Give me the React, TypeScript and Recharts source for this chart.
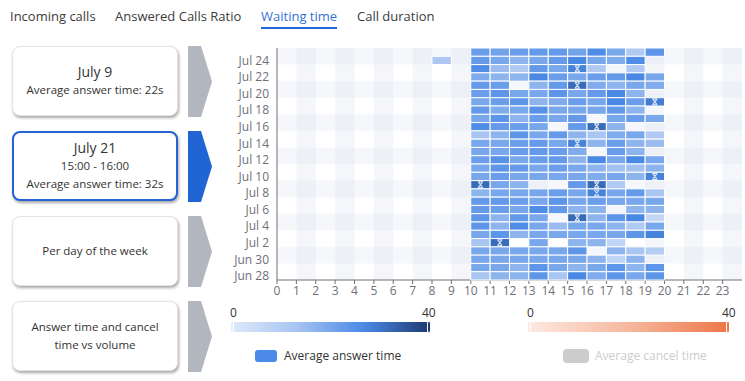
import React from "react";
import { ScatterChart, Scatter, XAxis, YAxis, ReferenceArea } from "recharts";

const TABS = ["Incoming calls", "Answered Calls Ratio", "Waiting time", "Call duration"];
const TAB_LEFT = [10, 115, 261, 357];
const ACTIVE_TAB = 2;

// rows top to bottom
const DAYS = [
  "Jul 25", "Jul 24", "Jul 23", "Jul 22", "Jul 21", "Jul 20", "Jul 19",
  "Jul 18", "Jul 17", "Jul 16", "Jul 15", "Jul 14", "Jul 13", "Jul 12",
  "Jul 11", "Jul 10", "Jul 9", "Jul 8", "Jul 7", "Jul 6", "Jul 5",
  "Jul 4", "Jul 3", "Jul 2", "Jul 1", "Jun 30", "Jun 29", "Jun 28",
];
const HOURS = Array.from({ length: 24 }, (_, i) => i);
const BUSY_HOURS = [10, 11, 12, 13, 14, 15, 16, 17, 18, 19];

// average answer time (s), one row per day, columns = BUSY_HOURS
const WAIT: (number | null)[][] = [
  [22, 21, 22, 23, 23, 21, 26, 20, 11, 24],
  [23, 20, 17, 20, 23, 27, 20, 19, 26, null],
  [26, 15, 11, 23, 20, 28, 11, null, 11, null],
  [19, 17, 17, 27, 22, 20, 22, 23, 27, 20],
  [23, 22, null, 17, 23, 32, 19, 17, 20, 19],
  [22, 24, 20, 20, 24, 20, 23, 27, 17, null],
  [20, 22, 24, 17, 19, 22, 20, 27, 22, 29],
  [23, 19, 20, 25, 20, 20, 20, 23, 17, null],
  [20, 24, 17, 22, 20, 23, null, 20, 22, 20],
  [26, 23, 22, 20, null, 23, 32, 17, null, null],
  [13, 17, 24, 20, 23, 17, 13, 19, 20, 11],
  [20, 20, 22, 23, 20, 28, 17, 22, 17, 15],
  [20, 20, 22, 23, 22, 19, null, 22, 17, null],
  [22, 25, 20, 22, 23, 17, 27, 20, 27, 20],
  [20, 24, 23, 20, 22, 20, 17, 14, 14, 17],
  [20, 22, 20, 20, 20, 20, 19, 20, 17, 28],
  [32, 20, 17, null, null, 23, 32, 11, null, null],
  [17, 20, 20, 20, 22, 20, 28, 20, 23, 13],
  [23, 23, 22, 20, 24, 20, 22, 20, 20, 20],
  [23, 22, 20, 26, 23, 17, 17, null, 17, 17],
  [24, 17, 23, 20, null, 32, 17, 24, 27, 6],
  [24, 17, 26, 20, 15, 20, 20, 17, 11, 20],
  [20, 24, 17, 20, 20, 20, 20, 20, 24, 28],
  [13, 32, null, 20, null, 17, 17, 7, null, null],
  [20, 20, 20, 20, 20, 24, null, 17, 13, 10],
  [20, 20, 20, 20, 20, 20, 17, 7, 17, null],
  [20, 20, 17, 24, 20, 17, 20, 24, 17, 24],
  [13, 17, 17, 24, 13, 27, 19, 24, 20, 24],
];
const EXTRA = [{ day: "Jul 24", hour: 8, value: 12 }];

// cells marked with the small icon
const FLAGGED: [string, number][] = [
  ["Jul 23", 15], ["Jul 21", 15], ["Jul 19", 19], ["Jul 16", 16],
  ["Jul 14", 15], ["Jul 10", 19], ["Jul 9", 10], ["Jul 9", 16],
  ["Jul 8", 16], ["Jul 5", 15], ["Jul 2", 11],
];

const CARDS = [
  { lines: ["July 9", "Average answer time: 22s"], selected: false },
  { lines: ["July 21", "15:00 - 16:00", "Average answer time: 32s"], selected: true },
  { lines: ["Per day of the week"], selected: false },
  { lines: ["Answer time and cancel", "time vs volume"], selected: false },
];

const MAX_VALUE = 40;
const BLUE_STOPS: [number, string][] = [
  [0, "#dce9fb"], [0.33, "#a8c4f1"], [0.67, "#4a8ae6"], [1, "#1f3d72"],
];

const hex = (c: string) => [1, 3, 5].map((i) => parseInt(c.slice(i, i + 2), 16));
const colorFor = (v: number) => {
  const t = Math.max(0, Math.min(1, v / MAX_VALUE));
  for (let i = 1; i < BLUE_STOPS.length; i++) {
    const [p1, c1] = BLUE_STOPS[i];
    const [p0, c0] = BLUE_STOPS[i - 1];
    if (t <= p1) {
      const k = (t - p0) / (p1 - p0);
      const a = hex(c0), b = hex(c1);
      return `rgb(${a.map((x, j) => Math.round(x + (b[j] - x) * k)).join(",")})`;
    }
  }
  return BLUE_STOPS[BLUE_STOPS.length - 1][1];
};

const CHART_W = 525;
const CHART_H = 262;
const MARGIN = { top: 8, right: 3, bottom: 0, left: 0 };
const Y_W = 57;
const X_H = 22;
const CELL_W = (CHART_W - MARGIN.left - MARGIN.right - Y_W) / HOURS.length;
const CELL_H = (CHART_H - MARGIN.top - MARGIN.bottom - X_H) / DAYS.length;

const cells: { x: number; y: number; v: number; flag: boolean }[] = [];
DAYS.forEach((day, d) => {
  WAIT[d].forEach((v, j) => {
    if (v == null) return;
    const h = BUSY_HOURS[j];
    cells.push({ x: h + 0.5, y: d + 0.5, v, flag: FLAGGED.some(([fd, fh]) => fd === day && fh === h) });
  });
});
EXTRA.forEach((e) => cells.push({ x: e.hour + 0.5, y: DAYS.indexOf(e.day) + 0.5, v: e.value, flag: false }));

const CellShape = (props: any) => {
  const { cx, cy, payload } = props;
  if (cx == null || cy == null) return null;
  return (
    <g>
      <rect x={cx - CELL_W / 2} y={cy - CELL_H / 2} width={CELL_W} height={CELL_H} fill={colorFor(payload.v)} stroke="#ffffff" strokeWidth={1} />
      {payload.flag && (
        <path
          d={`M${cx - 2.5},${cy - 3}h5M${cx - 2.5},${cy + 3}h5M${cx - 2},${cy - 2.5}L${cx + 2},${cy + 2.5}M${cx + 2},${cy - 2.5}L${cx - 2},${cy + 2.5}`}
          stroke="#dfe7f5"
          strokeWidth={1.1}
          fill="none"
        />
      )}
    </g>
  );
};

const yTicks = DAYS.map((_, i) => i + 0.5).filter((_, i) => i % 2 === 1);
const axisColor = "#6e7079";

const Arrow = ({ color }: { color: string }) => (
  <svg width={25} height={71} style={{ display: "block" }}>
    <polygon points="0,0 13,0 24,35.5 13,71 0,71" fill={color} />
  </svg>
);

export default function App() {
  return (
    <div style={{ position: "absolute", left: 0, top: 0, width: 745, height: 381, background: "#fff", fontFamily: "'Open Sans', sans-serif", overflow: "hidden" }}>
      {TABS.map((t, i) => (
        <div key={t} style={{ position: "absolute", left: TAB_LEFT[i], top: 7, fontSize: 13, lineHeight: "18px", color: i === ACTIVE_TAB ? "#3471d8" : "#3c3c3c", whiteSpace: "nowrap" }}>
          {t}
          {i === ACTIVE_TAB && <div style={{ position: "absolute", left: 0, right: 0, top: 20, height: 2, background: "#1f66d6" }} />}
        </div>
      ))}

      {CARDS.map((c, i) => (
        <React.Fragment key={i}>
          <div
            style={{
              position: "absolute", left: 12, top: 46 + i * 85, width: 166, height: 70, boxSizing: "border-box",
              border: c.selected ? "2px solid #2463d1" : "1px solid #e4e4e4", borderRadius: 8, background: "#fff",
              boxShadow: "1px 2px 3px rgba(0,0,0,0.35)", display: "flex", flexDirection: "column",
              alignItems: "center", justifyContent: "center", color: "#333", textAlign: "center",
            }}
          >
            {c.lines.map((l, k) => (
              <div key={k} style={{ fontSize: k === 0 && c.lines[0].startsWith("July") ? 14 : 11.5, lineHeight: "18px", whiteSpace: "nowrap" }}>{l}</div>
            ))}
          </div>
          <div style={{ position: "absolute", left: 188, top: 46 + i * 85 }}>
            <Arrow color={c.selected ? "#2065d3" : "#b1b6bf"} />
          </div>
        </React.Fragment>
      ))}

      <div style={{ position: "absolute", left: 220, top: 40 }}>
        <ScatterChart width={CHART_W} height={CHART_H} margin={MARGIN}>
          {HOURS.filter((h) => h % 2 === 1).map((h) => (
            <ReferenceArea key={"c" + h} x1={h} x2={h + 1} y1={0} y2={DAYS.length} fill="#dfe5f2" fillOpacity={0.35} stroke="none" />
          ))}
          {DAYS.map((_, d) => d).filter((d) => d % 4 === 0).map((d) => (
            <ReferenceArea key={"r" + d} x1={0} x2={24} y1={d} y2={d + 2} fill="#dfe5f2" fillOpacity={0.3} stroke="none" />
          ))}
          <XAxis
            type="number" dataKey="x" domain={[0, 24]} ticks={HOURS} interval={0} height={X_H}
            tick={{ fontSize: 12, fill: axisColor, fontFamily: "'Open Sans', sans-serif" }}
            axisLine={{ stroke: axisColor }} tickLine={{ stroke: axisColor }} tickSize={4}
          />
          <YAxis
            type="number" dataKey="y" domain={[0, DAYS.length]} reversed ticks={yTicks} interval={0} width={Y_W}
            tickFormatter={(v: number) => DAYS[Math.floor(v)]}
            tick={{ fontSize: 12, fill: axisColor, fontFamily: "'Open Sans', sans-serif" }}
            axisLine={{ stroke: axisColor }} tickLine={false}
          />
          <Scatter data={cells} shape={CellShape} isAnimationActive={false} />
        </ScatterChart>
      </div>

      {/* visual maps */}
      <div style={{ position: "absolute", left: 230, top: 304, fontSize: 12, color: "#333" }}>0</div>
      <div style={{ position: "absolute", left: 422, top: 304, fontSize: 12, color: "#333" }}>40</div>
      <div style={{ position: "absolute", left: 232, top: 322, width: 196, height: 10, background: `linear-gradient(to right, ${BLUE_STOPS.map(([p, c]) => `${c} ${p * 100}%`).join(",")})` }} />
      <div style={{ position: "absolute", left: 230, top: 321, width: 4, height: 12, borderRadius: 2, background: "#e3edfc", border: "1px solid #fff", boxSizing: "border-box" }} />
      <div style={{ position: "absolute", left: 427, top: 321, width: 4, height: 12, borderRadius: 2, background: "#1f3d72", border: "1px solid #fff", boxSizing: "border-box" }} />

      <div style={{ position: "absolute", left: 527, top: 304, fontSize: 12, color: "#333" }}>0</div>
      <div style={{ position: "absolute", left: 722, top: 304, fontSize: 12, color: "#333" }}>40</div>
      <div style={{ position: "absolute", left: 529, top: 322, width: 199, height: 10, background: "linear-gradient(to right, #fde9e1, #f5b89e 50%, #ee7649)" }} />
      <div style={{ position: "absolute", left: 527, top: 321, width: 4, height: 12, borderRadius: 2, background: "#fde9e1", border: "1px solid #fff", boxSizing: "border-box" }} />
      <div style={{ position: "absolute", left: 726, top: 321, width: 4, height: 12, borderRadius: 2, background: "#ee7649", border: "1px solid #fff", boxSizing: "border-box" }} />

      {/* legend */}
      <div style={{ position: "absolute", left: 255, top: 350, width: 22, height: 12, borderRadius: 3, background: "#4a8ae6" }} />
      <div style={{ position: "absolute", left: 284, top: 347, fontSize: 12, lineHeight: "18px", color: "#333" }}>Average answer time</div>
      <div style={{ position: "absolute", left: 563, top: 349, width: 26, height: 14, borderRadius: 4, background: "#cccccc" }} />
      <div style={{ position: "absolute", left: 595, top: 347, fontSize: 12, lineHeight: "18px", color: "#cccccc" }}>Average cancel time</div>
    </div>
  );
}
